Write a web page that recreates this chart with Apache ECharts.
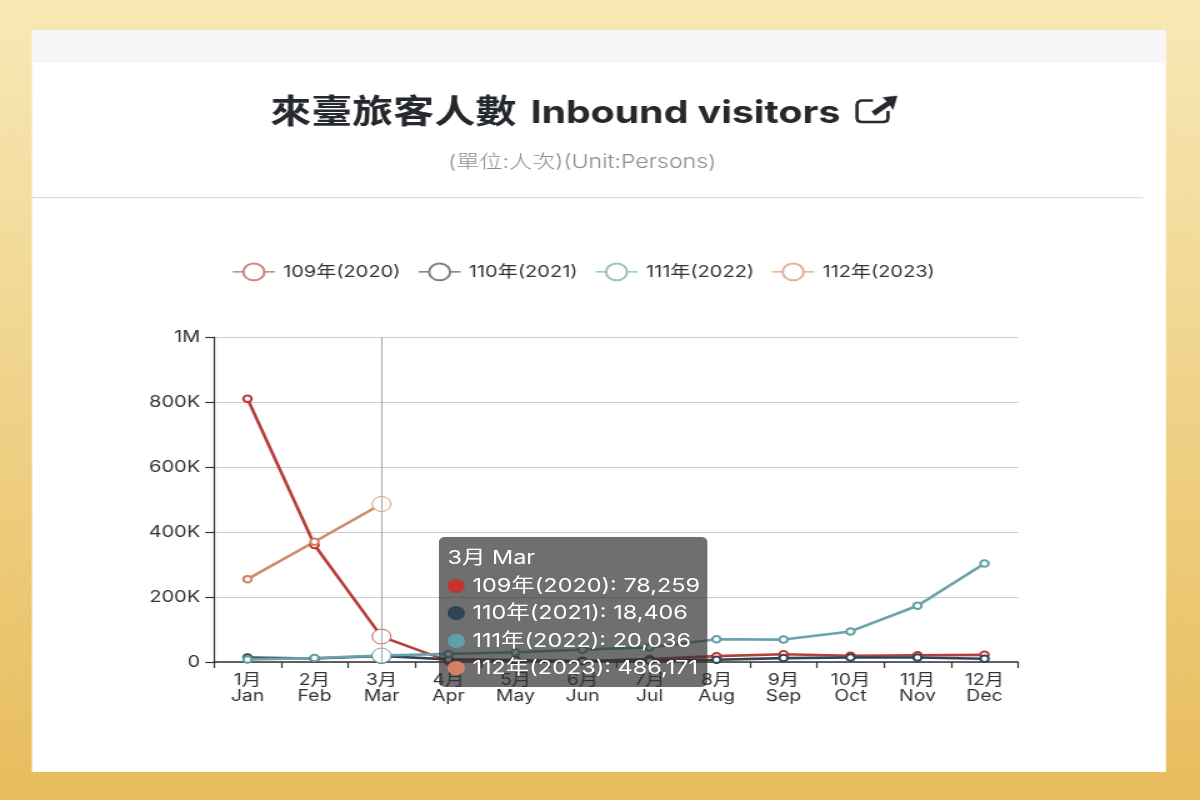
<!DOCTYPE html>
<html>
<head>
<meta charset="utf-8">
<style>html,body{margin:0;padding:0;background:#fff;overflow:hidden}#c{width:960px;height:800px;transform:scaleX(1.25);transform-origin:0 0}</style>
<script src="https://cdn.jsdelivr.net/npm/echarts@6/dist/echarts.min.js"></script>
</head>
<body>
<div id="c"></div>
<script>
const categories = ['1月\nJan','2月\nFeb','3月\nMar','4月\nApr','5月\nMay','6月\nJun','7月\nJul','8月\nAug','9月\nSep','10月\nOct','11月\nNov','12月\nDec'];
const seriesNames = ['109年(2020)','110年(2021)','111年(2022)','112年(2023)'];
const colors = ['#c23531','#2f4554','#61a0a8','#d48265'];
const lineColors = ['#b5403b','#2f4554','#6ba3ab','#d08b6c'];
const legendIconColors = ['#cf8582','#75838e','#9cc0c5','#e4b29b'];
const v2020 = [810000,360000,78259,2500,1800,3000,9000,18000,24000,19000,21000,22000];
const v2021 = [14000,11000,18406,8000,6000,3000,5000,7000,12000,14000,14000,10000];
const v2022 = [8000,12000,20036,25000,30000,38000,45000,70000,69000,94000,173000,303000];
const v2023 = [255000,370000,486171];
const values = [v2020,v2021,v2022,v2023];
const FONT = 'Inter,"Noto Sans CJK TC",sans-serif';
const S = 1.25;
const px = x => x / S;
const pts = a => a.map(p => [px(p[0]), p[1]]);

const chart = echarts.init(document.getElementById('c'));
chart.setOption({
  animation:false,
  color:colors,
  textStyle:{fontFamily:FONT},
  title:[
    {text:'{c|來臺旅客人數}{l| Inbound visitors}',left:px(264),top:92,
     textStyle:{rich:{c:{fontSize:32.8,fontWeight:'bold',fontFamily:FONT,color:'#25282c'},l:{fontSize:31.4,fontWeight:'bold',fontFamily:FONT,color:'#25282c',padding:[0,0,0,4]}}}},
    {text:'(單位:人次)(Unit:Persons)',left:px(442),top:148,
     textStyle:{fontSize:18.5,fontWeight:300,color:'#8c8c8c',fontFamily:FONT}}
  ],
  legend:{
    data:seriesNames.map((n,i)=>({name:n,itemStyle:{color:legendIconColors[i]}})),
    left:px(226),top:257.5,itemWidth:px(42),itemHeight:21,itemGap:14,
    textStyle:{fontSize:16,color:'#333',fontFamily:FONT,padding:[0,0,0,1.6]},
    lineStyle:{width:1}
  },
  tooltip:{
    trigger:'axis',alwaysShowContent:true,
    position:[px(439),537],
    backgroundColor:'rgba(50,50,50,0.7)',borderWidth:0,borderRadius:5,padding:[7,6,5,7],
    textStyle:{color:'#fff',fontSize:18.75,fontFamily:FONT},
    extraCssText:'box-shadow:none;line-height:27.5px;',
    axisPointer:{type:'line',lineStyle:{color:'#a8a8a8',width:1,type:'solid'}},
    formatter:function(ps){
      let s = ps[0].name.replace('\n',' ');
      ps.forEach(p=>{
        s += '<br/><span style="display:inline-block;width:14px;height:14px;border-radius:50%;margin-right:6px;vertical-align:-1px;background:'+p.color+'"></span>'+p.seriesName+': '+Number(p.value).toLocaleString('en-US');
      });
      return s;
    }
  },
  grid:{left:px(214),top:337,width:px(804),height:325,containLabel:false},
  xAxis:{
    type:'category',data:categories,boundaryGap:true,
    axisLine:{show:true,lineStyle:{color:'#333',width:1.5}},
    axisTick:{show:true,length:6,alignWithLabel:false,lineStyle:{color:'#333',width:1.2}},
    axisLabel:{color:'#333',fontSize:15.5,lineHeight:16,margin:10,interval:0,fontFamily:FONT},
    splitLine:{show:false}
  },
  yAxis:{
    type:'value',min:0,max:1000000,interval:200000,
    axisLine:{show:true,lineStyle:{color:'#333',width:1.2}},
    axisTick:{show:true,length:7,lineStyle:{color:'#333',width:1.2}},
    axisLabel:{color:'#333',fontSize:16,margin:11,fontFamily:FONT,
      formatter:function(v){return v===0?'0':(v>=1000000?(v/1000000)+'M':(v/1000)+'K');}},
    splitLine:{show:true,lineStyle:{color:'#ccc',width:1}}
  },
  series:seriesNames.map((n,i)=>({
    name:n,type:'line',data:values[i],symbol:'emptyCircle',symbolSize:6.5,showSymbol:true,
    lineStyle:{width:2.6,color:lineColors[i]},itemStyle:{color:colors[i],borderWidth:0.6},
    emphasis:{scale:2.3,focus:'none',lineStyle:{width:2.6,color:lineColors[i]},itemStyle:{color:'#fff',borderColor:colors[i],borderWidth:0.8}}
  })),
  graphic:[
    {type:'rect',z:-10,silent:true,shape:{x:0,y:0,width:px(1200),height:800},
     style:{fill:new echarts.graphic.LinearGradient(0,0,0,1,[{offset:0,color:'#f8e9b6'},{offset:1,color:'#e8bc5c'}])}},
    {type:'rect',z:-9,silent:true,shape:{x:px(32),y:30,width:px(1134),height:742},style:{fill:'#ffffff'}},
    {type:'rect',z:-8,silent:true,shape:{x:px(32),y:30,width:px(1134),height:33},style:{fill:'#f6f6f6'}},
    {type:'rect',z:-8,silent:true,shape:{x:px(32),y:197,width:px(1111),height:1.2},style:{fill:'#dcdcdc'}},
    {type:'polyline',silent:true,z:5,
     shape:{points:pts([[873,100.5],[861,100.5],[858,102],[857,105],[857,118],[858,121],[861,122],[884,122],[887,121],[888,118],[888,111]])},
     style:{fill:'none',stroke:'#25282c',lineWidth:2.6}},
    {type:'polygon',silent:true,z:5,
     shape:{points:pts([[897,96],[883,97.5],[887,101.5],[872,111.5],[875,115.5],[890,105],[893,109.5]])},
     style:{fill:'#25282c',stroke:'#25282c',lineWidth:0.5}}
  ]
});
chart.dispatchAction({type:'showTip',seriesIndex:0,dataIndex:2});
</script>
</body>
</html>
